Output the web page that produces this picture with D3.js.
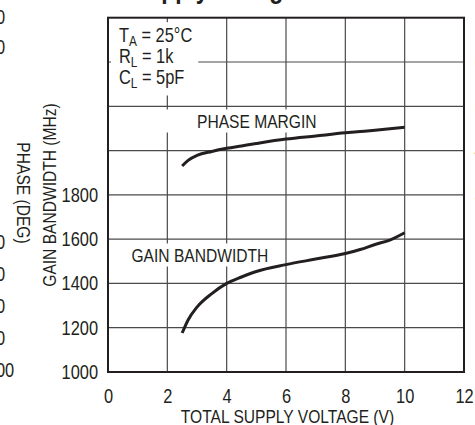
<!DOCTYPE html>
<html>
<head>
<meta charset="utf-8">
<script src="https://cdn.jsdelivr.net/npm/d3@7"></script>
<style>
  html, body { margin: 0; padding: 0; background: #ffffff; }
  svg { display: block; }
  text { font-family: 'Liberation Sans Narrow', 'Arial Narrow', 'Liberation Sans', Arial, sans-serif; fill: #231f20; }
</style>
</head>
<body>
<svg id="chart" width="475" height="425"></svg>
<script>
// ---- data ----
const voltage = [2.5, 2.7, 3.0, 3.5, 4, 4.5, 5, 6, 7, 8, 8.5, 9, 9.5, 10];
const gainBandwidth = [1176, 1235, 1293, 1354, 1400, 1429, 1454, 1485, 1510, 1535, 1553, 1576, 1596, 1629];
const phaseMargin = [36.5, 37.8, 38.9, 39.8, 40.5, 41.05, 41.6, 42.6, 43.3, 44.0, 44.3, 44.6, 44.95, 45.25];
const xTicks = [0, 2, 4, 6, 8, 10, 12];
const yTickLabels = [1000, 1200, 1400, 1600, 1800];
const yGrid = [1200, 1400, 1600, 1800, 2000, 2200, 2400];
const phaseTicks = [30, 40, 50, 60];
const neighborTop = ["-20", "-40"];
const neighborBottom = ["-20", "-40", "-60", "-80", "-100"];

const NARROW = 0.82;
const svg = d3.select("#chart");
const L = 108, R = 464, T = 17.7, B = 372;
const x = d3.scaleLinear().domain([0, 12]).range([L, R]);
const y = d3.scaleLinear().domain([1000, 2600]).range([B, T]);
const yPhase = d3.scaleLinear().domain([-10, 70]).range([B, T]);

function condense(sel) {
  sel.each(function () {
    const w = this.getComputedTextLength();
    this.setAttribute("textLength", w * NARROW);
    this.setAttribute("lengthAdjust", "spacingAndGlyphs");
  });
  return sel;
}

// title fragment (cropped at top)
condense(svg.append("text").attr("x", 132).attr("y", -2)
  .style("font-size", "28px").style("font-weight", "bold")
  .text("Supply Voltage"));

// neighbour chart fragments at the left edge
const nScale = d3.scaleLinear().domain([0, 1]).range([17, 47]);
condense(svg.append("g").selectAll("text").data(neighborTop).join("text")
  .attr("x", -18.7).attr("y", (d, i) => nScale(i) + 7)
  .style("font-size", "20px").text(d => d));
const nScale2 = d3.scaleLinear().domain([0, 4]).range([242, 370]);
condense(svg.append("g").selectAll("text").data(neighborBottom).join("text")
  .attr("x", -18.7).attr("y", (d, i) => nScale2(i) + 7)
  .style("font-size", "20px").text(d => d));
condense(svg.append("text").attr("transform", "translate(16.5,193) rotate(90)")
  .attr("text-anchor", "middle").style("font-size", "19px").text("PHASE (DEG)"));

// grid
const grid = svg.append("g").attr("stroke", "#4a4a4a").attr("stroke-width", 1.2);
grid.selectAll("line.v").data(xTicks.slice(1, -1)).join("line")
  .attr("x1", d => x(d)).attr("x2", d => x(d)).attr("y1", T).attr("y2", B);
grid.selectAll("line.h").data(yGrid).join("line")
  .attr("x1", L).attr("x2", R).attr("y1", d => y(d)).attr("y2", d => y(d));

// labels with white backgrounds
const bgLayer = svg.append("g");
const textLayer = svg.append("g");
function boxed(node, padL, padR, padT, padB) {
  const bb = node.getBBox();
  bgLayer.append("rect").attr("x", bb.x - padL).attr("y", bb.y - padT)
    .attr("width", bb.width + padL + padR).attr("height", bb.height + padT + padB)
    .attr("fill", "#ffffff");
}

const annOuter = textLayer.append("g");
const ann = annOuter.append("g").attr("transform", `translate(119,0) scale(${NARROW},1)`)
  .style("font-size", "20px");
const annLines = [["T", "A", " = 25°C"], ["R", "L", " = 1k"], ["C", "L", " = 5pF"]];
annLines.forEach((l, i) => {
  const t = ann.append("text").attr("x", 0).attr("y", 41.8 + i * 21.2);
  t.append("tspan").text(l[0]);
  t.append("tspan").attr("dy", 4).style("font-size", "14.5px").text(l[1]);
  t.append("tspan").attr("dy", -4).text(l[2]);
});
boxed(annOuter.node(), 8, 6, 1, 4);

const pm = condense(textLayer.append("text").attr("x", 197).attr("y", 127.5)
  .style("font-size", "19px").text("PHASE MARGIN"));
boxed(pm.node(), 45, 8, 1, 1);
const gb = condense(textLayer.append("text").attr("x", 131.5).attr("y", 261.5)
  .style("font-size", "19px").text("GAIN BANDWIDTH"));
boxed(gb.node(), 5, 6, 1, 1);

// border
svg.append("rect").attr("x", L).attr("y", T).attr("width", R - L).attr("height", B - T)
  .attr("fill", "none").attr("stroke", "#231f20").attr("stroke-width", 2);

// curves
const lineGB = d3.line().x((d, i) => x(voltage[i])).y(d => y(d)).curve(d3.curveMonotoneX);
const linePM = d3.line().x((d, i) => x(voltage[i])).y(d => yPhase(d)).curve(d3.curveMonotoneX);
svg.append("path").attr("d", lineGB(gainBandwidth)).attr("fill", "none")
  .attr("stroke", "#231f20").attr("stroke-width", 3);
svg.append("path").attr("d", linePM(phaseMargin)).attr("fill", "none")
  .attr("stroke", "#231f20").attr("stroke-width", 3);

// axes
const xAxis = svg.append("g").attr("transform", `translate(0,${B})`)
  .call(d3.axisBottom(x).tickValues(xTicks).tickSize(0).tickPadding(16.5));
xAxis.select(".domain").remove();
condense(xAxis.selectAll("text").style("font-size", "20px").attr("fill", "#231f20")
  .style("font-family", "'Liberation Sans', Arial, sans-serif"));

const yAxis = svg.append("g").attr("transform", `translate(${L},0)`)
  .call(d3.axisLeft(y).tickValues(yTickLabels).tickSize(0).tickPadding(10).tickFormat(d3.format("d")));
yAxis.select(".domain").remove();
condense(yAxis.selectAll("text").style("font-size", "20px").attr("fill", "#231f20")
  .style("font-family", "'Liberation Sans', Arial, sans-serif"));

const yAxisR = svg.append("g").attr("transform", `translate(${R},0)`)
  .call(d3.axisRight(yPhase).tickValues(phaseTicks).tickSize(0).tickPadding(10.5));
yAxisR.select(".domain").remove();
condense(yAxisR.selectAll("text").style("font-size", "20px").attr("fill", "#9a9a9a")
  .style("font-family", "'Liberation Sans', Arial, sans-serif"));

// axis titles
condense(svg.append("text").attr("x", (L + R) / 2 + 1.5).attr("y", 423)
  .attr("text-anchor", "middle").style("font-size", "19px").text("TOTAL SUPPLY VOLTAGE (V)"));
condense(svg.append("text").attr("transform", "translate(55.5,195) rotate(-90)")
  .attr("text-anchor", "middle").style("font-size", "19px").text("GAIN BANDWIDTH (MHz)"));
</script>
</body>
</html>
